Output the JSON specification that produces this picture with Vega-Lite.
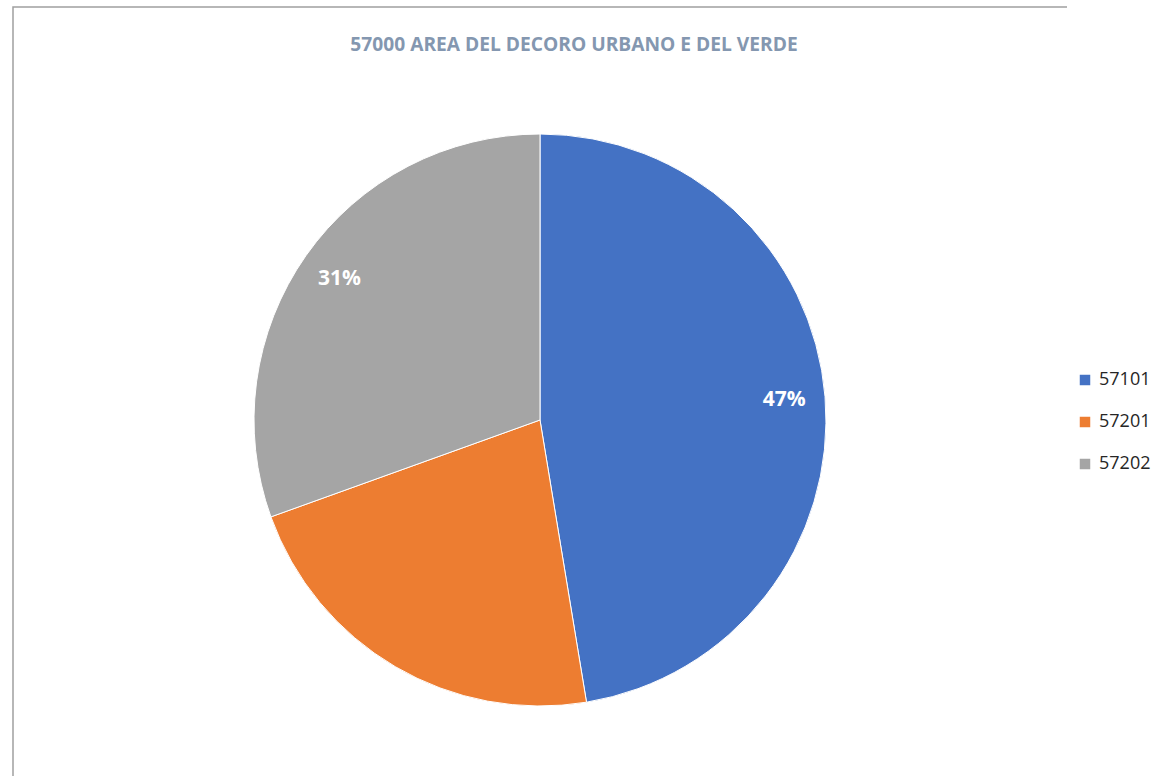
{
  "$schema": "https://vega.github.io/schema/vega-lite/v6.json",
  "autosize": "none",
  "padding": {"left": 13, "top": 7, "right": 93, "bottom": 0},
  "width": 1054,
  "height": 826,
  "background": "white",
  "view": {"stroke": "#a0a0a0", "strokeWidth": 1.5, "strokeDash": [1054, 1880, 826]},
  "title": {
    "text": "57000 AREA DEL DECORO URBANO E DEL VERDE",
    "font": "Open Sans",
    "fontSize": 19.2,
    "fontWeight": "bold",
    "color": "#8497B0",
    "anchor": "middle",
    "baseline": "alphabetic",
    "offset": -63,
    "dx": 34
  },
  "data": {
    "values": [
      {"codice": "57101", "quota": 47.4, "etichetta": "47%"},
      {"codice": "57201", "quota": 22.1, "etichetta": ""},
      {"codice": "57202", "quota": 30.5, "etichetta": "31%"}
    ]
  },
  "encoding": {
    "theta": {"field": "quota", "type": "quantitative", "stack": true},
    "color": {
      "field": "codice",
      "type": "nominal",
      "scale": {"domain": ["57101", "57201", "57202"], "range": ["#4472C4", "#ED7D31", "#A5A5A5"]},
      "legend": {
        "title": null,
        "orient": "none",
        "legendX": 1063,
        "legendY": 364,
        "padding": 0,
        "symbolType": "square",
        "symbolSize": 110,
        "symbolStrokeWidth": 0,
        "labelFont": "Open Sans",
        "labelFontSize": 18,
        "labelColor": "#262626",
        "labelOffset": 5,
        "rowPadding": 24
      }
    },
    "order": {"field": "codice", "type": "nominal"}
  },
  "layer": [
    {"mark": {"type": "arc", "outerRadius": 286, "stroke": "white", "strokeWidth": 1}},
    {
      "mark": {"type": "text", "radius": 245, "font": "Open Sans", "fontSize": 21, "fontWeight": "bold", "fill": "white"},
      "encoding": {"text": {"field": "etichetta", "type": "nominal"}, "color": {"value": "white"}}
    }
  ]
}
